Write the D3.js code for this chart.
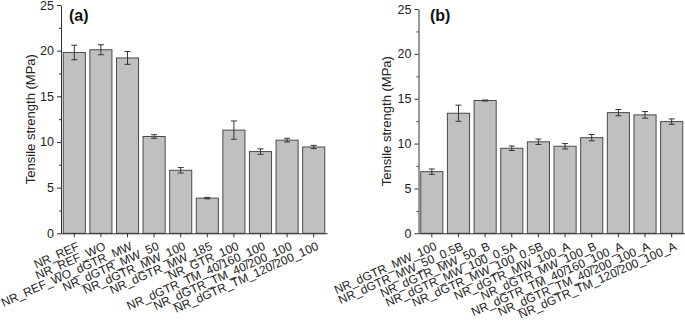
<!DOCTYPE html>
<html>
<head>
<meta charset="utf-8">
<script src="https://cdn.jsdelivr.net/npm/d3@7"></script>
<style>
  body { margin: 0; background: #fff; }
  svg { display: block; font-family: "Liberation Sans", Arial, sans-serif; }
</style>
</head>
<body>
<svg width="685" height="324"></svg>
<script>
  // panel (a)
  const catsA = ["NR_REF", "NR_REF_WO", "NR_REF_WO_dGTR_MW", "NR_dGTR_MW_50", "NR_dGTR_MW_100",
    "NR_dGTR_MW_185", "NR_GTR_100", "NR_dGTR_TM_40/160_100", "NR_dGTR_TM_40/200_100", "NR_dGTR_TM_120/200_100"];
  const valsA = [19.8, 20.1, 19.2, 10.6, 6.9, 3.85, 11.3, 8.95, 10.2, 9.45];
  const errsA = [0.8, 0.55, 0.7, 0.2, 0.3, 0.08, 1.0, 0.3, 0.2, 0.18];

  // panel (b)
  const catsB = ["NR_dGTR_MW_100", "NR_dGTR_MW_50_0.5B", "NR_dGTR_MW_50_B", "NR_dGTR_MW_100_0.5A",
    "NR_dGTR_MW_100_0.5B", "NR_dGTR_MW_100_A", "NR_dGTR_MW_100_B", "NR_dGTR_TM_40/160_100_A",
    "NR_dGTR_TM_40/200_100_A", "NR_dGTR_TM_120/200_100_A"];
  const valsB = [6.87, 13.38, 14.8, 9.48, 10.2, 9.7, 10.66, 13.45, 13.2, 12.45];
  const errsB = [0.3, 0.9, 0.05, 0.25, 0.3, 0.3, 0.35, 0.35, 0.37, 0.3];

  const yTicks = [0, 5, 10, 15, 20, 25];

  const svg = d3.select("svg");

  function panel(cats, vals, errs, opt) {
    const g = svg.append("g");
    const x = d3.scaleBand().domain(cats).range([opt.x0, opt.x1]).paddingInner(0.17).paddingOuter(0.085);
    const y = d3.scaleLinear().domain([0, 25]).range([opt.yBottom, opt.yTop]);

    // bars
    g.selectAll("rect.bar")
      .data(cats)
      .enter()
      .append("rect")
      .attr("class", "bar")
      .attr("x", d => x(d))
      .attr("width", x.bandwidth())
      .attr("y", (d, i) => y(vals[i]))
      .attr("height", (d, i) => y(0) - y(vals[i]))
      .style("fill", "#c0c0c0")
      .style("stroke", "#4a4a4a")
      .style("stroke-width", "1px");

    // error bars
    const eb = g.selectAll("g.err").data(cats).enter().append("g")
      .attr("transform", d => `translate(${x(d) + x.bandwidth() / 2},0)`)
      .style("stroke", "#333").style("stroke-width", "1px");
    eb.append("line").attr("y1", (d, i) => y(vals[i] + errs[i])).attr("y2", (d, i) => y(vals[i] - errs[i]));
    eb.append("line").attr("x1", -3).attr("x2", 3)
      .attr("y1", (d, i) => y(vals[i] + errs[i])).attr("y2", (d, i) => y(vals[i] + errs[i]));
    eb.append("line").attr("x1", -3).attr("x2", 3)
      .attr("y1", (d, i) => y(vals[i] - errs[i])).attr("y2", (d, i) => y(vals[i] - errs[i]));

    // y axis
    const yAxis = g.append("g").attr("transform", `translate(${opt.x0},0)`)
      .call(d3.axisLeft(y).tickValues(yTicks).tickSize(4).tickPadding(3).tickSizeOuter(0));
    yAxis.select(".domain").style("stroke", "#333");
    yAxis.selectAll(".tick line").style("stroke", "#333");
    yAxis.selectAll("text").style("font-size", "12.5px").style("fill", "#222");
    // minor ticks
    g.append("g").attr("transform", `translate(${opt.x0},0)`)
      .call(d3.axisLeft(y).tickValues([2.5, 7.5, 12.5, 17.5, 22.5]).tickSize(2).tickFormat(""))
      .call(a => a.select(".domain").remove())
      .selectAll("line").style("stroke", "#333");

    // x axis
    const xAxis = g.append("g").attr("transform", `translate(0,${y(0)})`)
      .call(d3.axisBottom(x).tickSize(4).tickSizeOuter(0));
    xAxis.select(".domain").style("stroke", "#333");
    xAxis.selectAll(".tick line").style("stroke", "#333");
    xAxis.selectAll("text")
      .style("font-size", "12px")
      .style("fill", "#222")
      .attr("text-anchor", "end")
      .attr("dy", "0.35em")
      .attr("transform", "translate(4,12) rotate(-24)")
      .attr("y", 0).attr("x", 0);

    // y label
    g.append("text")
      .attr("transform", `translate(${opt.yLabelX},${(y(0) + y(25)) / 2}) rotate(-90)`)
      .attr("text-anchor", "middle")
      .style("font-size", "13px")
      .style("fill", "#222")
      .text("Tensile strength (MPa)");

    // panel tag
    g.append("text")
      .attr("x", opt.tagX).attr("y", 21)
      .style("font-size", "16px").style("font-weight", "bold").style("fill", "#111")
      .text(opt.tag);
  }

  panel(catsA, valsA, errsA, { x0: 61, x1: 327, yBottom: 233.3, yTop: 5, yLabelX: 35, tag: "(a)", tagX: 69 });
  panel(catsB, valsB, errsB, { x0: 418.5, x1: 685, yBottom: 233.3, yTop: 9, yLabelX: 391, tag: "(b)", tagX: 430 });
</script>
</body>
</html>
